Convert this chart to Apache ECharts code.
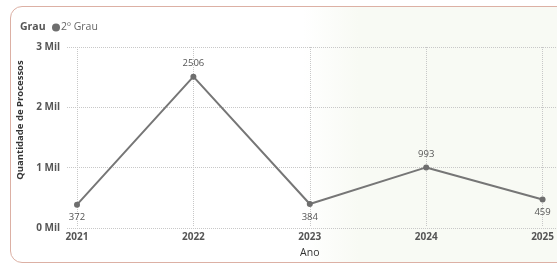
<!DOCTYPE html>
<html>
<head>
<meta charset="utf-8">
<script src="https://cdn.jsdelivr.net/npm/echarts@6/dist/echarts.min.js"></script>
<style>
	html, body { margin: 0; padding: 0; background: #fff; overflow: hidden; }
	#wrap { position: relative; width: 557px; height: 264px; overflow: hidden; }
	#card {
		position: absolute; left: 10px; top: 6px; right: -150px; height: 255px;
		border: 1px solid #dcb0a4; border-radius: 12px;
		background: linear-gradient(to right, #ffffff 0%, #ffffff 42%, #f8faf4 50%, #f8faf4 100%);
	}
	#chart { position: absolute; left: 0; top: 0; width: 557px; height: 264px; }
</style>
</head>
<body>
<div id="wrap">
	<div id="card"></div>
	<div id="chart"></div>
</div>
<script>
	// dados
	var anos = ['2021', '2022', '2023', '2024', '2025']
	var processos = [372, 2506, 384, 993, 459]
	var posicaoRotulo = ['bottom', 'top', 'bottom', 'top', 'bottom']
	var yMax = 3000
	var yPasso = 1000

	var gridLine = { type: 'dotted', color: '#c8c8c8', width: 1 }

	var chart = echarts.init(document.getElementById('chart'))
	chart.setOption({
		animation: false,
		textStyle: { fontFamily: 'Open Sans' },
		title: {
			text: 'Grau',
			left: 20,
			top: 22,
			padding: 0,
			textStyle: { fontSize: 10.5, fontWeight: 'bold', color: '#555' }
		},
		legend: {
			left: 52,
			top: 22,
			padding: 0,
			itemWidth: 8,
			itemHeight: 8,
			itemGap: 4,
			icon: 'circle',
			textStyle: { fontSize: 10.5, color: '#666', padding: [0, 0, 0, -4] },
			data: ['2º Grau']
		},
		// grid 0: eixo y (linhas horizontais comecam em x=67)
		// grid 1: eixo x de categorias + serie
		grid: [
			{ left: 67, right: 0, top: 47, bottom: 36 },
			{ left: 77, right: 6, top: 47, bottom: 36 }
		],
		xAxis: [{
			gridIndex: 0,
			type: 'value',
			show: false
		}, {
			gridIndex: 1,
			type: 'category',
			data: anos,
			boundaryGap: false,
			name: 'Ano',
			nameLocation: 'middle',
			nameGap: 21,
			nameTextStyle: { fontSize: 10.5, color: '#333' },
			axisLine: { show: false },
			axisTick: { show: false },
			axisLabel: { fontSize: 10, fontWeight: 'bold', color: '#555', margin: 5 },
			splitLine: { show: true, lineStyle: gridLine }
		}],
		yAxis: [{
			gridIndex: 0,
			type: 'value',
			min: 0,
			max: yMax,
			interval: yPasso,
			name: 'Quantidade de Processos',
			nameLocation: 'middle',
			nameGap: 31,
			nameTextStyle: { fontSize: 9.5, fontWeight: 'bold', color: '#333', padding: [0, 0, 0, 35] },
			axisLine: { show: false },
			axisTick: { show: false },
			axisLabel: {
				fontSize: 10, fontWeight: 'bold', color: '#555', margin: 7,
				formatter: function (v) { return (v / 1000) + ' Mil' }
			},
			splitLine: { lineStyle: gridLine }
		}, {
			gridIndex: 1,
			type: 'value',
			min: 0,
			max: yMax,
			interval: yPasso,
			show: false,
			splitLine: { show: false }
		}],
		series: [{
			name: '2º Grau',
			type: 'line',
			xAxisIndex: 1,
			yAxisIndex: 1,
			data: processos.map(function (v, i) {
				return { value: v, label: { position: posicaoRotulo[i] } }
			}),
			symbol: 'circle',
			symbolSize: 6,
			color: '#6e6e6e',
			lineStyle: { width: 2, color: '#767676' },
			label: { show: true, fontSize: 9.5, color: '#555', distance: 5 }
		}]
	})
</script>
</body>
</html>
